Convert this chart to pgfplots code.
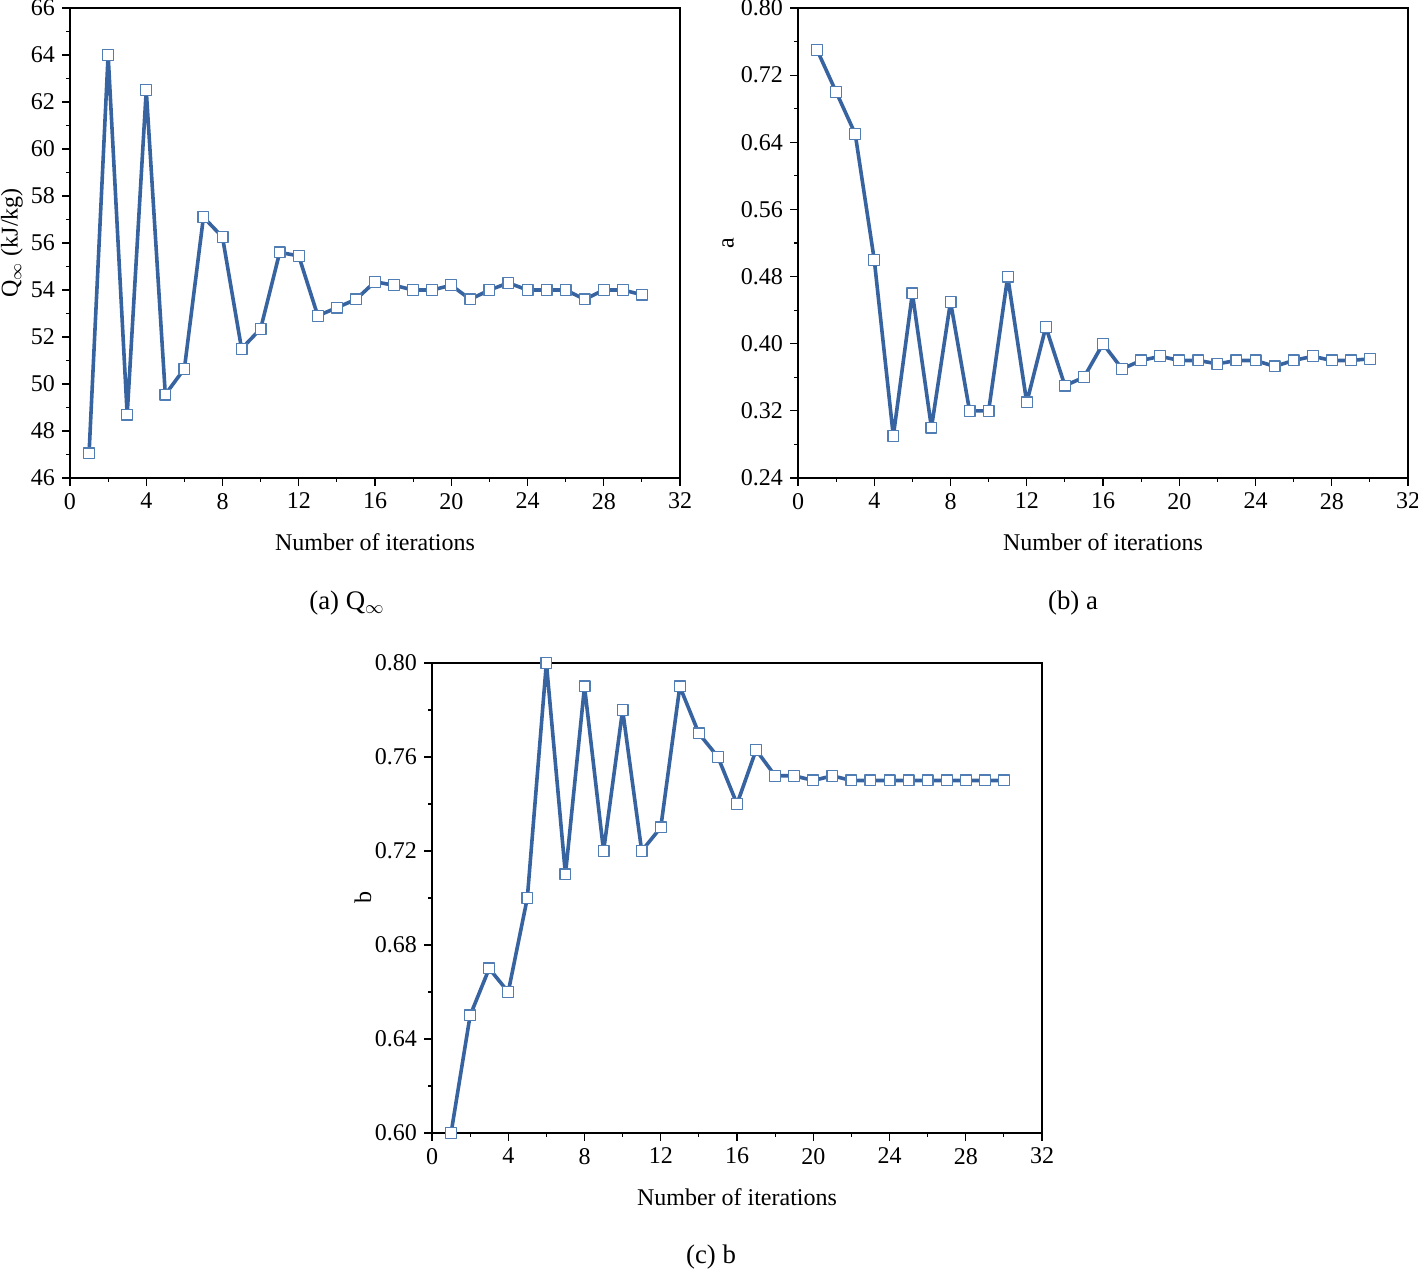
\documentclass[border=0pt]{standalone}
\usepackage{fontspec}
\setmainfont{Liberation Serif}
\usepackage{pgfplots}
\pgfplotsset{compat=1.18}
\definecolor{lineblue}{RGB}{55,100,160}
\definecolor{markblue}{RGB}{80,125,180}
\pgfplotsset{
  mystyle/.style={
    scale only axis,
    width=305pt, height=235pt,
    xmin=0, xmax=32,
    xtick={0,4,...,32},
    minor x tick num=1,
    minor y tick num=1,
    tick align=outside,
    xtick pos=bottom, ytick pos=left,
    major tick length=4pt, minor tick length=2pt,
    axis line style={line width=0.75pt},
    every tick/.style={line width=0.6pt, black},
    tick label style={font=\fontsize{12}{13}\selectfont},
    label style={font=\fontsize{12}{13}\selectfont},
    /pgf/number format/assume math mode=true,
    xlabel={Number of iterations},
    xlabel style={at={(axis description cs:0.5,0)}, anchor=center, yshift=-32pt},
  },
  myplot/.style={
    color=lineblue, line width=1.8pt, line join=round,
    mark=square*, mark size=2.7pt,
    mark options={fill=white, draw=markblue, line width=0.6pt, solid},
  },
}
\begin{document}
\begin{tikzpicture}[x=1pt,y=1pt]
\path[use as bounding box] (0,0) rectangle (709,636.5);
\begin{axis}[mystyle, at={(35pt,397.5pt)}, anchor=south west,
  ymin=46, ymax=66, ytick={46,48,...,66},
  ylabel={Q$_{\infty}$ (kJ/kg)},
  ylabel style={at={(axis description cs:0,0.5)}, anchor=center, yshift=29pt}]
\addplot[myplot] coordinates {
(1,47.05)(2,64.0)(3,48.7)(4,62.5)(5,49.55)(6,50.65)(7,57.1)(8,56.25)(9,51.5)(10,52.35)
(11,55.6)(12,55.45)(13,52.9)(14,53.25)(15,53.6)(16,54.35)(17,54.2)(18,54.0)(19,54.0)(20,54.2)
(21,53.6)(22,54.0)(23,54.3)(24,54.0)(25,54.0)(26,54.0)(27,53.6)(28,54.0)(29,54.0)(30,53.8)};
\end{axis}
\begin{axis}[mystyle, at={(399pt,397.5pt)}, anchor=south west,
  ymin=0.24, ymax=0.80, ytick={0.24,0.32,...,0.81},
  yticklabel style={/pgf/number format/fixed, /pgf/number format/fixed zerofill, /pgf/number format/precision=2},
  ylabel={a},
  ylabel style={at={(axis description cs:0,0.5)}, anchor=center, yshift=35pt}]
\addplot[myplot] coordinates {
(1,0.75)(2,0.70)(3,0.65)(4,0.50)(5,0.29)(6,0.46)(7,0.30)(8,0.45)(9,0.32)(10,0.32)
(11,0.48)(12,0.33)(13,0.42)(14,0.35)(15,0.36)(16,0.40)(17,0.37)(18,0.38)(19,0.385)(20,0.38)
(21,0.38)(22,0.376)(23,0.38)(24,0.38)(25,0.373)(26,0.38)(27,0.385)(28,0.38)(29,0.38)(30,0.382)};
\end{axis}
\begin{axis}[mystyle, at={(216pt,70pt)}, anchor=south west,
  ymin=0.60, ymax=0.80, ytick={0.60,0.64,...,0.81},
  yticklabel style={/pgf/number format/fixed, /pgf/number format/fixed zerofill, /pgf/number format/precision=2},
  ylabel={b},
  ylabel style={at={(axis description cs:0,0.5)}, anchor=center, yshift=34.5pt}]
\addplot[myplot] coordinates {
(1,0.60)(2,0.65)(3,0.67)(4,0.66)(5,0.70)(6,0.80)(7,0.71)(8,0.79)(9,0.72)(10,0.78)
(11,0.72)(12,0.73)(13,0.79)(14,0.77)(15,0.76)(16,0.74)(17,0.763)(18,0.752)(19,0.752)(20,0.75)
(21,0.752)(22,0.75)(23,0.75)(24,0.75)(25,0.75)(26,0.75)(27,0.75)(28,0.75)(29,0.75)(30,0.75)};
\end{axis}
\node[font=\fontsize{13.4}{15}\selectfont] at (173.5,335) {(a) Q$_{\infty}$};
\node[font=\fontsize{13.4}{15}\selectfont] at (536.5,335) {(b) a};
\node[font=\fontsize{13.4}{15}\selectfont] at (355.5,8) {(c) b};
\end{tikzpicture}
\end{document}
